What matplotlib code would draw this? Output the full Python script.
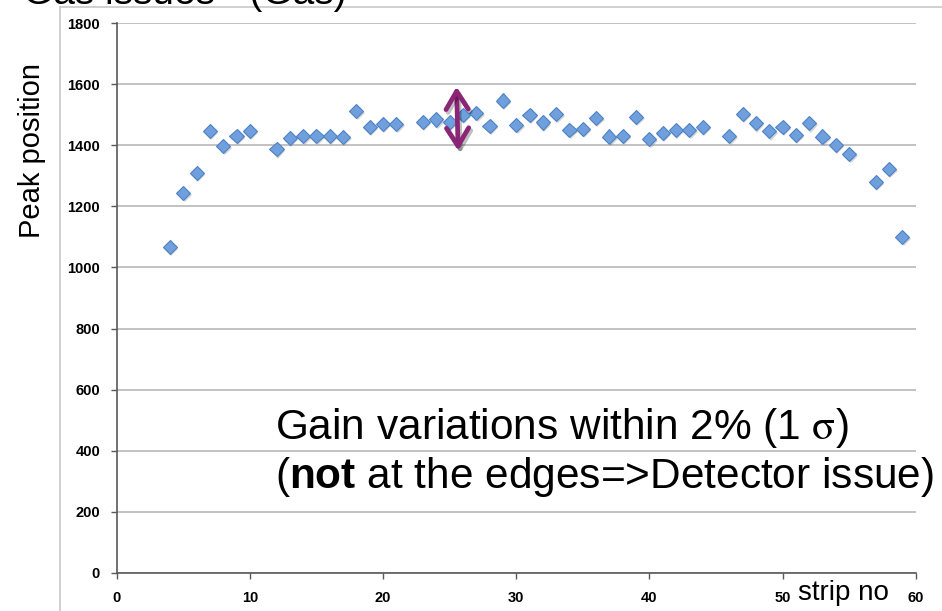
import matplotlib
matplotlib.use("Agg")
import matplotlib.pyplot as plt
import matplotlib.patheffects as pe
from matplotlib.lines import Line2D

# strip number vs. fitted peak position
strip_no = [4, 5, 6, 7, 8, 9, 10,
            12, 13, 14, 15, 16, 17, 18, 19, 20, 21,
            23, 24, 25, 26, 27, 28, 29, 30, 31, 32, 33, 34, 35, 36, 37, 38, 39, 40, 41, 42, 43, 44,
            46, 47, 48, 49, 50, 51, 52, 53, 54, 55,
            57, 58, 59]
peak_pos = [1068, 1243, 1309, 1448, 1399, 1432, 1448,
            1387, 1425, 1431, 1432, 1432, 1427, 1513, 1461, 1470, 1470,
            1477, 1485, 1477, 1499, 1505, 1464, 1547, 1467, 1500, 1475, 1503, 1450, 1453, 1491,
            1429, 1431, 1494, 1422, 1440, 1450, 1450, 1461,
            1431, 1503, 1472, 1446, 1461, 1435, 1472, 1429, 1402, 1372,
            1280, 1322, 1101]
x_ticks = [0, 10, 20, 30, 40, 50, 60]
y_ticks = [0, 200, 400, 600, 800, 1000, 1200, 1400, 1600, 1800]
spread_x = [25.52, 25.64]      # purple double arrow (top, bottom)
spread_y = [1592, 1383]

plt.rcParams["font.family"] = ["Liberation Sans", "DejaVu Sans"]
plt.rcParams["mathtext.fontset"] = "custom"
plt.rcParams["mathtext.rm"] = "Liberation Sans"
plt.rcParams["mathtext.bf"] = "Liberation Sans:bold"

W, H = 942, 611
fig = plt.figure(figsize=(W / 100, H / 100), dpi=100)
ax = fig.add_axes([116.7 / W, 1 - 572.7 / H, 799 / W, 549.4 / H])

# chart-area frame (only left and top edges visible)
fig.add_artist(Line2D([59.5 / W, 59.5 / W], [0, 1 - 7.3 / H], color="#c8c8c8", lw=1.2))
fig.add_artist(Line2D([59.5 / W, 1], [1 - 7.3 / H, 1 - 7.3 / H], color="#c8c8c8", lw=1.2))

ax.set_xlim(0, 60)
ax.set_ylim(0, 1800)
ax.set_xticks(x_ticks)
ax.set_yticks(y_ticks)
ax.grid(axis="y", color="#bdbdbd", lw=1.3)
ax.set_axisbelow(True)
for s in ["top", "right"]:
    ax.spines[s].set_visible(False)
for s in ["left", "bottom"]:
    ax.spines[s].set_color("#595959")
    ax.spines[s].set_linewidth(1.2)
ax.tick_params(direction="out", length=4, width=1, color="#595959")
ax.tick_params(axis="y", pad=8)
ax.tick_params(axis="x", pad=9)
for lab in ax.get_xticklabels() + ax.get_yticklabels():
    lab.set_fontweight("bold")
    lab.set_fontsize(10.5)

ax.plot(strip_no, peak_pos, ls="none", marker="D", ms=7.2,
        mfc="#6f9fdc", mec="#4f82c4", mew=0.8, zorder=3, clip_on=False,
        path_effects=[pe.SimplePatchShadow(offset=(1, -1.5), shadow_rgbFace="#888888", alpha=0.35),
                      pe.Normal()])

ax.annotate("", xy=(spread_x[0], spread_y[0]), xytext=(spread_x[1], spread_y[1]),
            arrowprops=dict(arrowstyle="<->,head_length=1.3,head_width=0.8", mutation_scale=10,
                            lw=3.4, color="#8b2575", shrinkA=0, shrinkB=0,
                            path_effects=[pe.SimpleLineShadow(offset=(1.5, -2), alpha=0.25),
                                          pe.Normal()]),
            zorder=5)

ax.text(11.9, 438, r"Gain variations within 2% (1 $\mathrm{\sigma}$)", fontsize=30.5,
        va="baseline", ha="left", math_fontfamily="stix")
ax.text(11.9, 277, r"($\mathbf{not}$ at the edges=>Detector issue)", fontsize=30.5,
        va="baseline", ha="left")

ax.text(0.8527, -0.0497, "strip no", transform=ax.transAxes, fontsize=20,
        ha="left", va="baseline")

fig.text(32 / W, 1 - 150 / H, "Peak position", rotation=90, fontsize=21,
         ha="center", va="center")
# slide title, cut off by the top edge just as in the original screenshot
fig.text(23 / W, 1 - 4 / H, "Gas issues - (Gas)", fontsize=28, ha="left", va="baseline")

fig.savefig("out.png", dpi=100)
